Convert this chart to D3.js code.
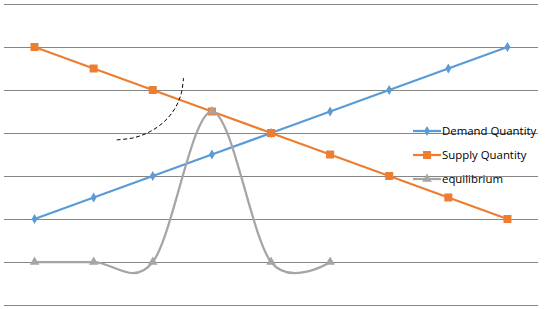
<!DOCTYPE html>
<html>
<head>
<meta charset="utf-8">
<script src="https://cdn.jsdelivr.net/npm/d3@7"></script>
<style>
  body { margin: 0; background: #fff; }
  svg { display: block; font-family: "Open Sans", "Liberation Sans", sans-serif; }
</style>
</head>
<body>
<div id="chart"></div>
<script>
// chart data
var categories = ["1", "2", "3", "4", "5", "6", "7", "8", "9"];
var demandQuantity = [2, 2.5, 3, 3.5, 4, 4.5, 5, 5.5, 6];
var supplyQuantity = [6, 5.5, 5, 4.5, 4, 3.5, 3, 2.5, 2];
var equilibrium = [1, 1, 1, 4.5, 1, 1];
var yTicks = [0, 1, 2, 3, 4, 5, 6, 7];
// hand-drawn dashed annotation, in [category index, value]
var annotation = [[1.39, 3.84], [1.68, 3.89], [1.95, 4.03], [2.19, 4.26], [2.37, 4.56], [2.48, 4.91], [2.52, 5.28]];

var width = 545, height = 309;

var svg = d3.select("#chart")
    .append("svg")
    .attr("width", width)
    .attr("height", height);

var x = d3.scalePoint()
    .domain(categories)
    .range([5, 537])
    .padding(0.5);

var xi = d3.scaleLinear()
    .domain([0, categories.length - 1])
    .range([x(categories[0]), x(categories[categories.length - 1])]);

var y = d3.scaleLinear()
    .domain([0, 7])
    .range([305, 4]);

// gridlines
svg.append("g")
    .attr("transform", "translate(4,0)")
    .call(d3.axisLeft(y).tickValues(yTicks).tickSize(-534).tickFormat(""))
    .call(function (g) { g.select(".domain").remove(); })
    .selectAll("line")
    .attr("stroke", "#868686")
    .attr("stroke-width", 1);

function lineOf(vals, curve) {
    return d3.line()
        .curve(curve || d3.curveLinear)
        .x(function (d, i) { return x(categories[i]); })
        .y(function (d) { return y(d); })(vals);
}

var series = [
    { name: "Demand Quantity", values: demandQuantity, color: "#5B9BD5", symbol: d3.symbolDiamond, size: 30, curve: d3.curveLinear },
    { name: "Supply Quantity", values: supplyQuantity, color: "#ED7D31", symbol: d3.symbolSquare, size: 64, curve: d3.curveLinear },
    { name: "equilibrium", values: equilibrium, color: "#A5A5A5", symbol: d3.symbolTriangle, size: 40, curve: d3.curveCardinal.tension(0) }
];

series.forEach(function (s) {
    svg.append("path")
        .attr("fill", "none")
        .attr("stroke", s.color)
        .attr("stroke-width", 2.25)
        .attr("d", lineOf(s.values, s.curve));
});

series.forEach(function (s) {
    svg.selectAll(null)
        .data(s.values)
        .enter()
        .append("path")
        .attr("transform", function (d, i) { return "translate(" + x(categories[i]) + "," + y(d) + ")"; })
        .attr("d", d3.symbol().type(s.symbol).size(s.size))
        .attr("fill", s.color);
});

// dashed annotation arc
svg.append("path")
    .attr("fill", "none")
    .attr("stroke", "#000")
    .attr("stroke-width", 1)
    .attr("stroke-dasharray", "4,2.5")
    .attr("d", d3.line()
        .curve(d3.curveCatmullRom)
        .x(function (d) { return xi(d[0]); })
        .y(function (d) { return y(d[1]); })(annotation));

// legend
var legend = svg.append("g").attr("transform", "translate(413,131)");
series.forEach(function (s, i) {
    var g = legend.append("g").attr("transform", "translate(0," + (i * 24) + ")");
    g.append("line")
        .attr("x1", 0).attr("x2", 28)
        .attr("stroke", s.color)
        .attr("stroke-width", 2.25);
    g.append("path")
        .attr("transform", "translate(14,0)")
        .attr("d", d3.symbol().type(s.symbol).size(s.size))
        .attr("fill", s.color);
    g.append("text")
        .attr("x", 29)
        .attr("y", 4)
        .attr("font-size", "11.4px")
        .attr("fill", "#000")
        .text(s.name);
});
</script>
</body>
</html>
